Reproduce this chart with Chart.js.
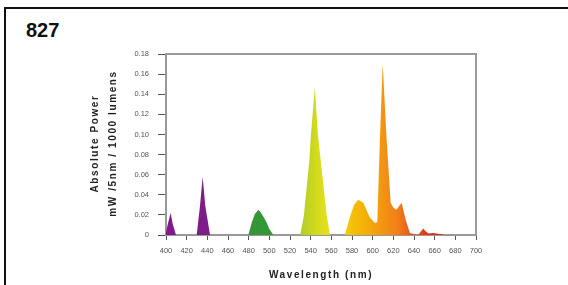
<!DOCTYPE html>
<html>
<head>
<meta charset="utf-8">
<script src="https://cdn.jsdelivr.net/npm/chart.js@4/dist/chart.umd.min.js"></script>
<style>
  html, body { margin: 0; padding: 0; background: #fff; }
  #wrap { position: relative; width: 568px; height: 285px; overflow: hidden; }
  #frame { position: absolute; left: 4px; top: 7px; width: 600px; height: 300px;
           border-left: 2px solid #111; border-top: 2px solid #111; }
  #label { position: absolute; left: 26px; top: 19px; line-height: 20px;
           font: bold 20px Arial, "Liberation Sans", sans-serif; color: #111; }
  canvas { position: absolute; left: 0; top: 0; }
</style>
</head>
<body>
<div id="wrap">
  <div id="frame"></div>
  <div id="label">827</div>
  <canvas id="spd" width="568" height="285"></canvas>
</div>
<script>
// spectral power distribution, lamp 827
const wavelengths = [
  400, 402, 404.5, 406.5, 409.7,
  429.7, 432.9, 435.5, 438, 442.6,
  479.7, 483, 486, 489.4, 492, 495, 497.4, 500, 504,
  530, 533.5, 538.7, 540.3, 544, 547, 549.7, 555.5, 558.7,
  573, 578, 582, 586, 591, 597, 602, 604.5, 607, 609.7, 613.5, 617.4, 620, 623, 628, 632, 636,
  644, 647, 649, 651, 654, 658, 662, 666, 670,
  700
];
const power = [
  0.003, 0.012, 0.022, 0.011, 0.000,
  0.000, 0.029, 0.058, 0.029, 0.000,
  0.000, 0.0125, 0.021, 0.025, 0.022, 0.017, 0.0125, 0.006, 0.000,
  0.000, 0.020, 0.074, 0.100, 0.147, 0.100, 0.074, 0.020, 0.000,
  0.000, 0.018, 0.030, 0.035, 0.032, 0.018, 0.012, 0.013, 0.095, 0.170, 0.095, 0.032, 0.027, 0.025, 0.032, 0.015, 0.002,
  0.000, 0.004, 0.0065, 0.004, 0.0015, 0.002, 0.0015, 0.0008, 0.000,
  0.000
];
const yTicks = [0, 0.02, 0.04, 0.06, 0.08, 0.10, 0.12, 0.14, 0.16, 0.18];
const yTitle = ['Absolute Power', 'mW /5nm / 1000 lumens'];
const xTitle = 'Wavelength (nm)';

// colour of the fill along the wavelength axis
const spectrum = [
  [400, '#86188c'], [445, '#7a1f86'], [470, '#3f8f3a'], [500, '#2f9a38'],
  [528, '#a9cc2a'], [545, '#d2da1c'], [560, '#ece01e'], [575, '#f4c80c'],
  [592, '#f5b006'], [606, '#f49a10'], [625, '#f07d18'], [640, '#e8501a'],
  [655, '#e03018'], [700, '#d41010']
];

const points = wavelengths.map((w, i) => ({ x: w, y: power[i] }));

function spectrumFill(context) {
  const chart = context.chart;
  if (!chart.chartArea) return '#f49a10';
  const x = chart.scales.x;
  const x0 = x.getPixelForValue(400), x1 = x.getPixelForValue(700);
  const g = chart.ctx.createLinearGradient(x0, 0, x1, 0);
  spectrum.forEach(([w, c]) => g.addColorStop((w - 400) / 300, c));
  return g;
}

// top/right frame of the plot plus the spaced-out axis titles
const framePlugin = {
  id: 'frame',
  afterDatasetsDraw(chart) {
    const { ctx, chartArea: a } = chart;
    ctx.save();
    ctx.strokeStyle = '#9a9a9a';
    ctx.lineWidth = 2;
    ctx.beginPath();
    ctx.moveTo(a.left, a.top);
    ctx.lineTo(a.right, a.top);
    ctx.lineTo(a.right, a.bottom);
    ctx.stroke();
    ctx.restore();
  },
  afterDraw(chart) {
    const { ctx, chartArea: a } = chart;
    ctx.save();
    ctx.fillStyle = '#222';
    ctx.font = 'bold 10px Arial, "Liberation Sans", sans-serif';
    ctx.textAlign = 'center';
    ctx.textBaseline = 'middle';
    ctx.letterSpacing = '1.6px';
    ctx.fillText(xTitle, (a.left + a.right) / 2, 275);
    ctx.translate(0, (a.top + a.bottom) / 2 - 1);
    ctx.rotate(-Math.PI / 2);
    ctx.fillText(yTitle[0], 0, 95);
    ctx.fillText(yTitle[1], 0, 113);
    ctx.restore();
  }
};

const tickFont = { family: 'Arial, "Liberation Sans", sans-serif', size: 7.5 };

new Chart(document.getElementById('spd'), {
  type: 'line',
  data: {
    datasets: [{
      data: points,
      fill: 'origin',
      backgroundColor: spectrumFill,
      borderWidth: 0,
      pointRadius: 0,
      tension: 0
    }]
  },
  plugins: [framePlugin],
  options: {
    responsive: false,
    animation: false,
    layout: { padding: { left: 84, top: 54, right: 92, bottom: 0 } },
    plugins: { legend: { display: false }, tooltip: { enabled: false } },
    scales: {
      x: {
        type: 'linear',
        min: 400,
        max: 700,
        afterFit: s => { s.height = 50; },
        ticks: { stepSize: 20, color: '#555', font: tickFont, padding: 6, maxRotation: 0, autoSkip: false },
        grid: { drawOnChartArea: false, tickLength: 5, color: '#555' },
        border: { color: '#999', width: 2 }
      },
      y: {
        min: 0,
        max: 0.18,
        afterFit: s => { s.width = 82; },
        afterBuildTicks: s => { s.ticks = yTicks.map(v => ({ value: v })); },
        ticks: {
          color: '#555', font: tickFont, padding: 9,
          callback: v => v === 0 ? '0' : v.toFixed(2)
        },
        grid: { drawOnChartArea: false, tickLength: 8, color: '#555' },
        border: { color: '#999', width: 2 }
      }
    }
  }
});
</script>
</body>
</html>
